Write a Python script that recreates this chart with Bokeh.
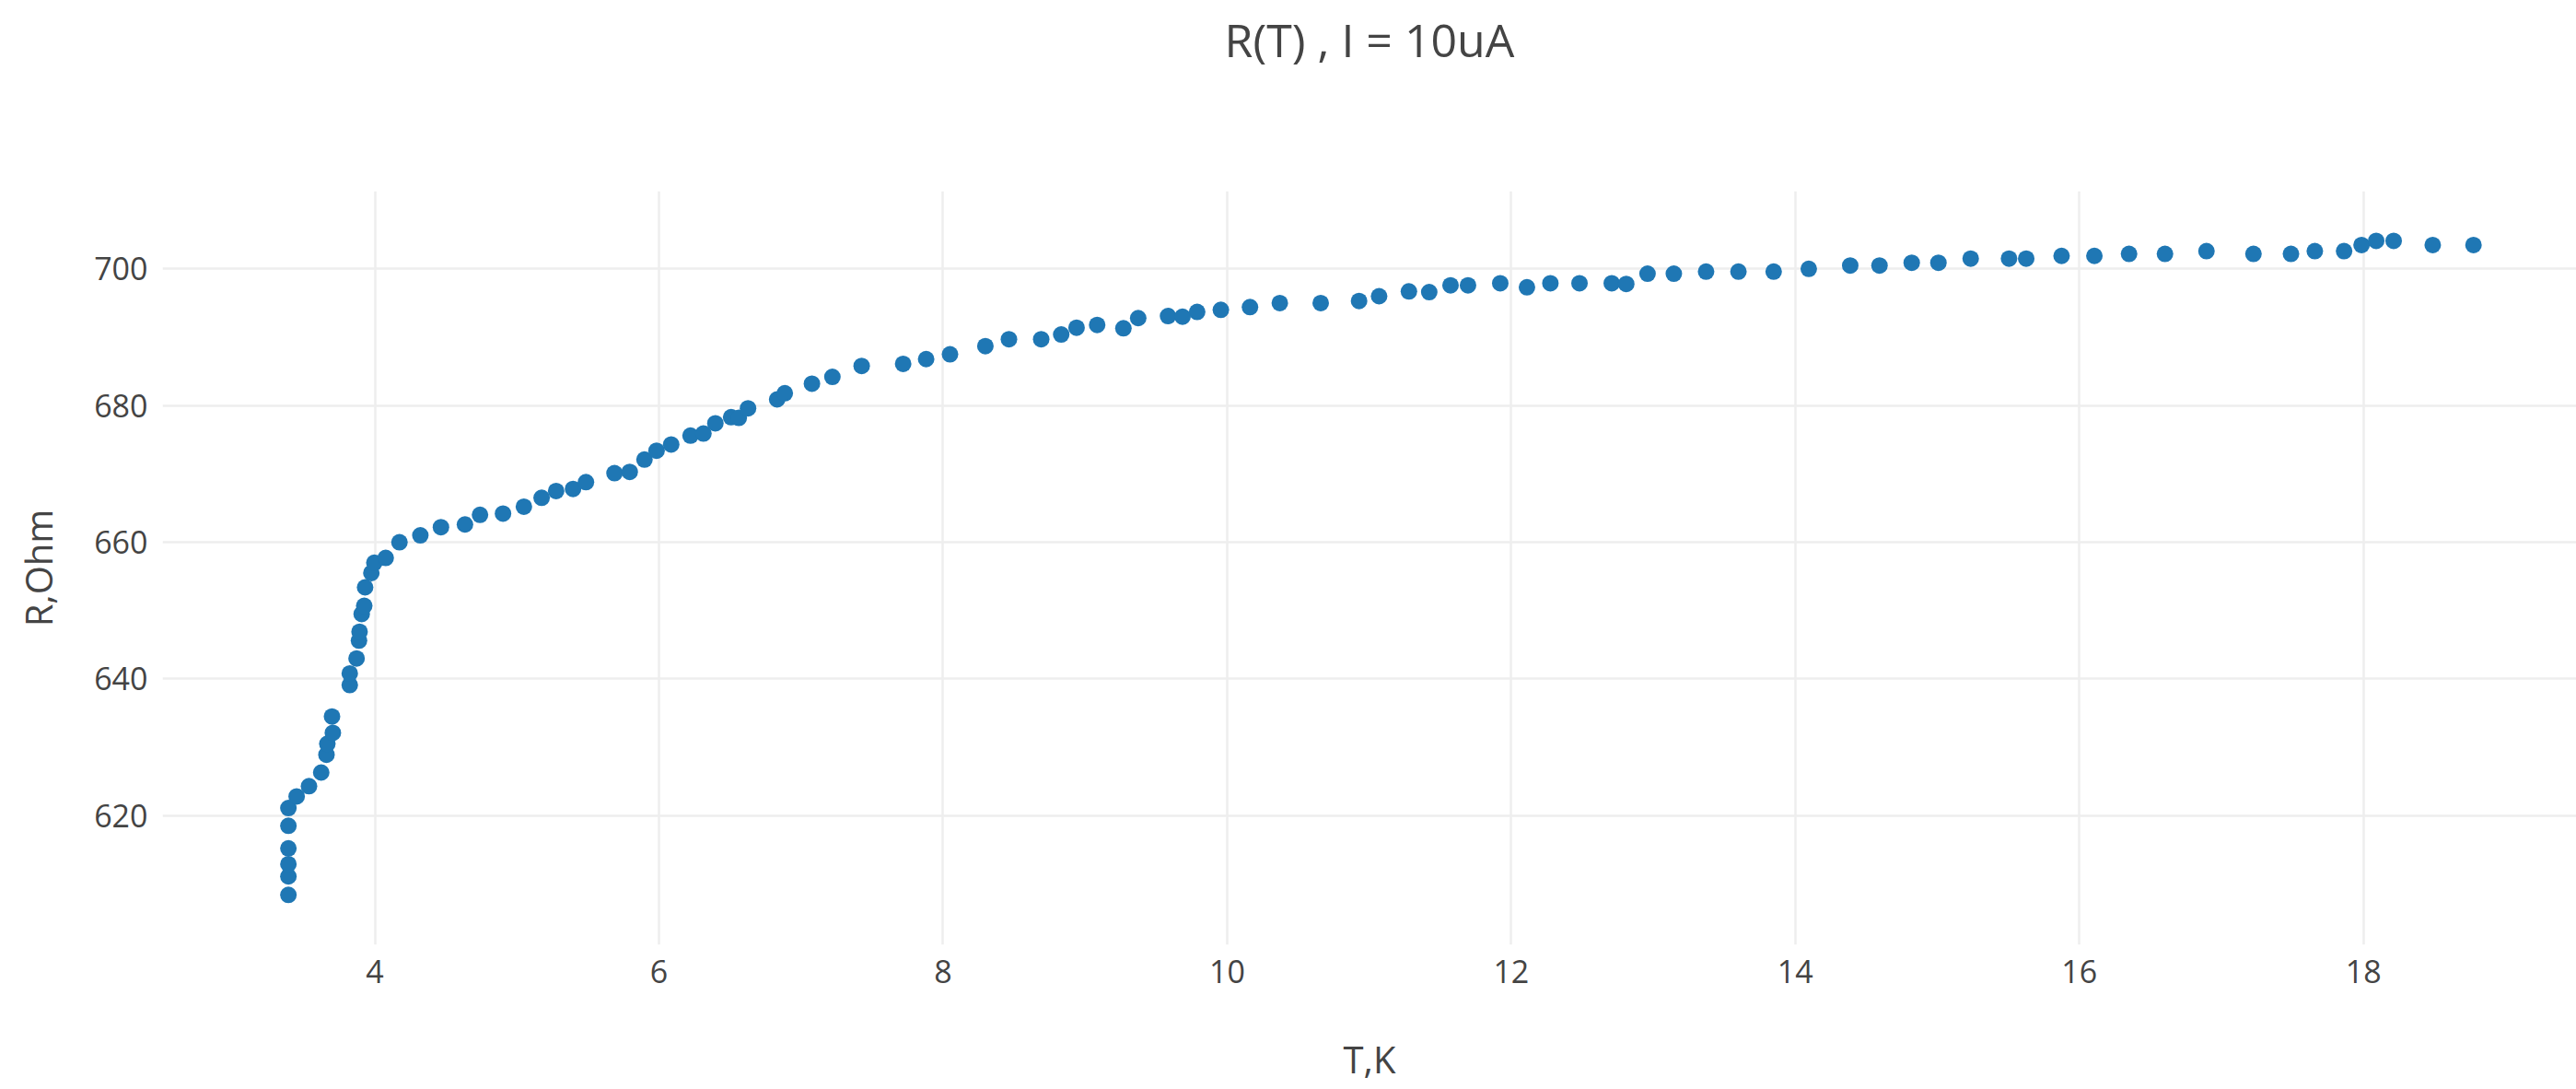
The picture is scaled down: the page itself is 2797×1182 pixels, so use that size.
from bokeh.plotting import figure
from bokeh.models import FixedTicker, Range1d, ColumnDataSource, Title
from bokeh.embed import file_html
from bokeh.resources import INLINE

# Measured resistance vs temperature at a bias current of 10 uA
temperature_k = [
    3.391, 3.391, 3.391, 3.391, 3.391, 3.391, 3.449, 3.536, 3.622, 3.659,
    3.665, 3.704, 3.698, 3.823, 3.823, 3.871, 3.888, 3.892, 3.907, 3.925,
    3.931, 3.975, 3.996, 4.076, 4.173, 4.320, 4.465, 4.634, 4.740, 4.902,
    5.049, 5.174, 5.276, 5.395, 5.486, 5.687, 5.794, 5.898, 5.983, 6.086,
    6.222, 6.313, 6.397, 6.508, 6.562, 6.627, 6.832, 6.886, 7.077, 7.221,
    7.427, 7.719, 7.881, 8.049, 8.298, 8.464, 8.691, 8.832, 8.940, 9.085,
    9.270, 9.374, 9.584, 9.686, 9.789, 9.956, 10.161, 10.371, 10.659, 10.929,
    11.070, 11.280, 11.423, 11.573, 11.696, 11.923, 12.111, 12.276, 12.481, 12.708,
    12.810, 12.960, 13.145, 13.372, 13.600, 13.848, 14.095, 14.387, 14.593, 14.820,
    15.008, 15.235, 15.505, 15.626, 15.875, 16.106, 16.350, 16.603, 16.895, 17.226,
    17.490, 17.658, 17.864, 17.987, 18.090, 18.213, 18.488, 18.775,
]
resistance_ohm = [
    608.4, 611.1, 612.9, 615.2, 618.5, 621.1, 622.8, 624.3, 626.3, 628.9,
    630.5, 632.1, 634.5, 639.1, 640.8, 643.0, 645.6, 646.9, 649.5, 650.7,
    653.4, 655.5, 657.0, 657.7, 660.0, 661.0, 662.2, 662.6, 664.0, 664.2,
    665.2, 666.5, 667.5, 667.8, 668.8, 670.1, 670.3, 672.1, 673.4, 674.3,
    675.6, 675.9, 677.4, 678.3, 678.2, 679.6, 680.9, 681.8, 683.2, 684.2,
    685.8, 686.1, 686.8, 687.5, 688.7, 689.7, 689.7, 690.4, 691.4, 691.8,
    691.3, 692.8, 693.1, 693.0, 693.7, 694.0, 694.4, 695.0, 695.0, 695.3,
    696.0, 696.7, 696.6, 697.6, 697.6, 697.9, 697.3, 697.9, 697.9, 697.9,
    697.8, 699.3, 699.3, 699.6, 699.6, 699.6, 700.0, 700.5, 700.5, 700.9,
    700.9, 701.5, 701.5, 701.5, 701.9, 701.9, 702.2, 702.2, 702.6, 702.2,
    702.2, 702.6, 702.6, 703.5, 704.1, 704.1, 703.5, 703.5,
]

x_ticks = [4, 6, 8, 10, 12, 14, 16, 18]
y_ticks = [620, 640, 660, 680, 700]

FONT = "Open Sans"
TEXT = "#444444"

source = ColumnDataSource(data=dict(t=temperature_k, r=resistance_ohm))

p = figure(
    width=2797, height=1182,
    output_backend="svg", toolbar_location=None,
    x_range=Range1d(2.505, 19.50), y_range=Range1d(601.09, 711.37),
    min_border_left=176, min_border_right=0,
    min_border_top=207, min_border_bottom=157,
)
p.outline_line_color = None
p.background_fill_color = "white"
p.border_fill_color = "white"

# blank band between the frame and the title, keeps the title near the top edge
p.add_layout(Title(text=" ", text_font_size="1px", standoff=125), "above")
p.add_layout(Title(
    text="R(T) , I = 10uA", align="center", standoff=6,
    text_font=FONT, text_font_size="50px", text_font_style="normal",
    text_color=TEXT,
), "above")

p.scatter("t", "r", source=source, size=18, color="#1f77b4", line_color=None)

p.xaxis.ticker = FixedTicker(ticks=x_ticks)
p.yaxis.ticker = FixedTicker(ticks=y_ticks)
p.xgrid.ticker = FixedTicker(ticks=x_ticks)
p.ygrid.ticker = FixedTicker(ticks=y_ticks)

for ax in (p.xaxis, p.yaxis):
    ax.axis_line_color = None
    ax.major_tick_line_color = None
    ax.minor_tick_line_color = None
    ax.major_label_text_font = FONT
    ax.major_label_text_font_size = "34px"
    ax.major_label_text_color = TEXT
    ax.axis_label_text_font = FONT
    ax.axis_label_text_font_size = "40px"
    ax.axis_label_text_font_style = "normal"
    ax.axis_label_text_color = TEXT

p.xaxis.axis_label = "T,K"
p.yaxis.axis_label = "R,Ohm"
p.xaxis.major_label_standoff = 10
p.yaxis.major_label_standoff = 10
p.xaxis.axis_label_standoff = 52
p.yaxis.axis_label_standoff = 30

for g in (p.xgrid, p.ygrid):
    g.grid_line_color = "#eeeeee"
    g.grid_line_width = 2.5

open("out.html", "w").write(file_html(p, INLINE))
